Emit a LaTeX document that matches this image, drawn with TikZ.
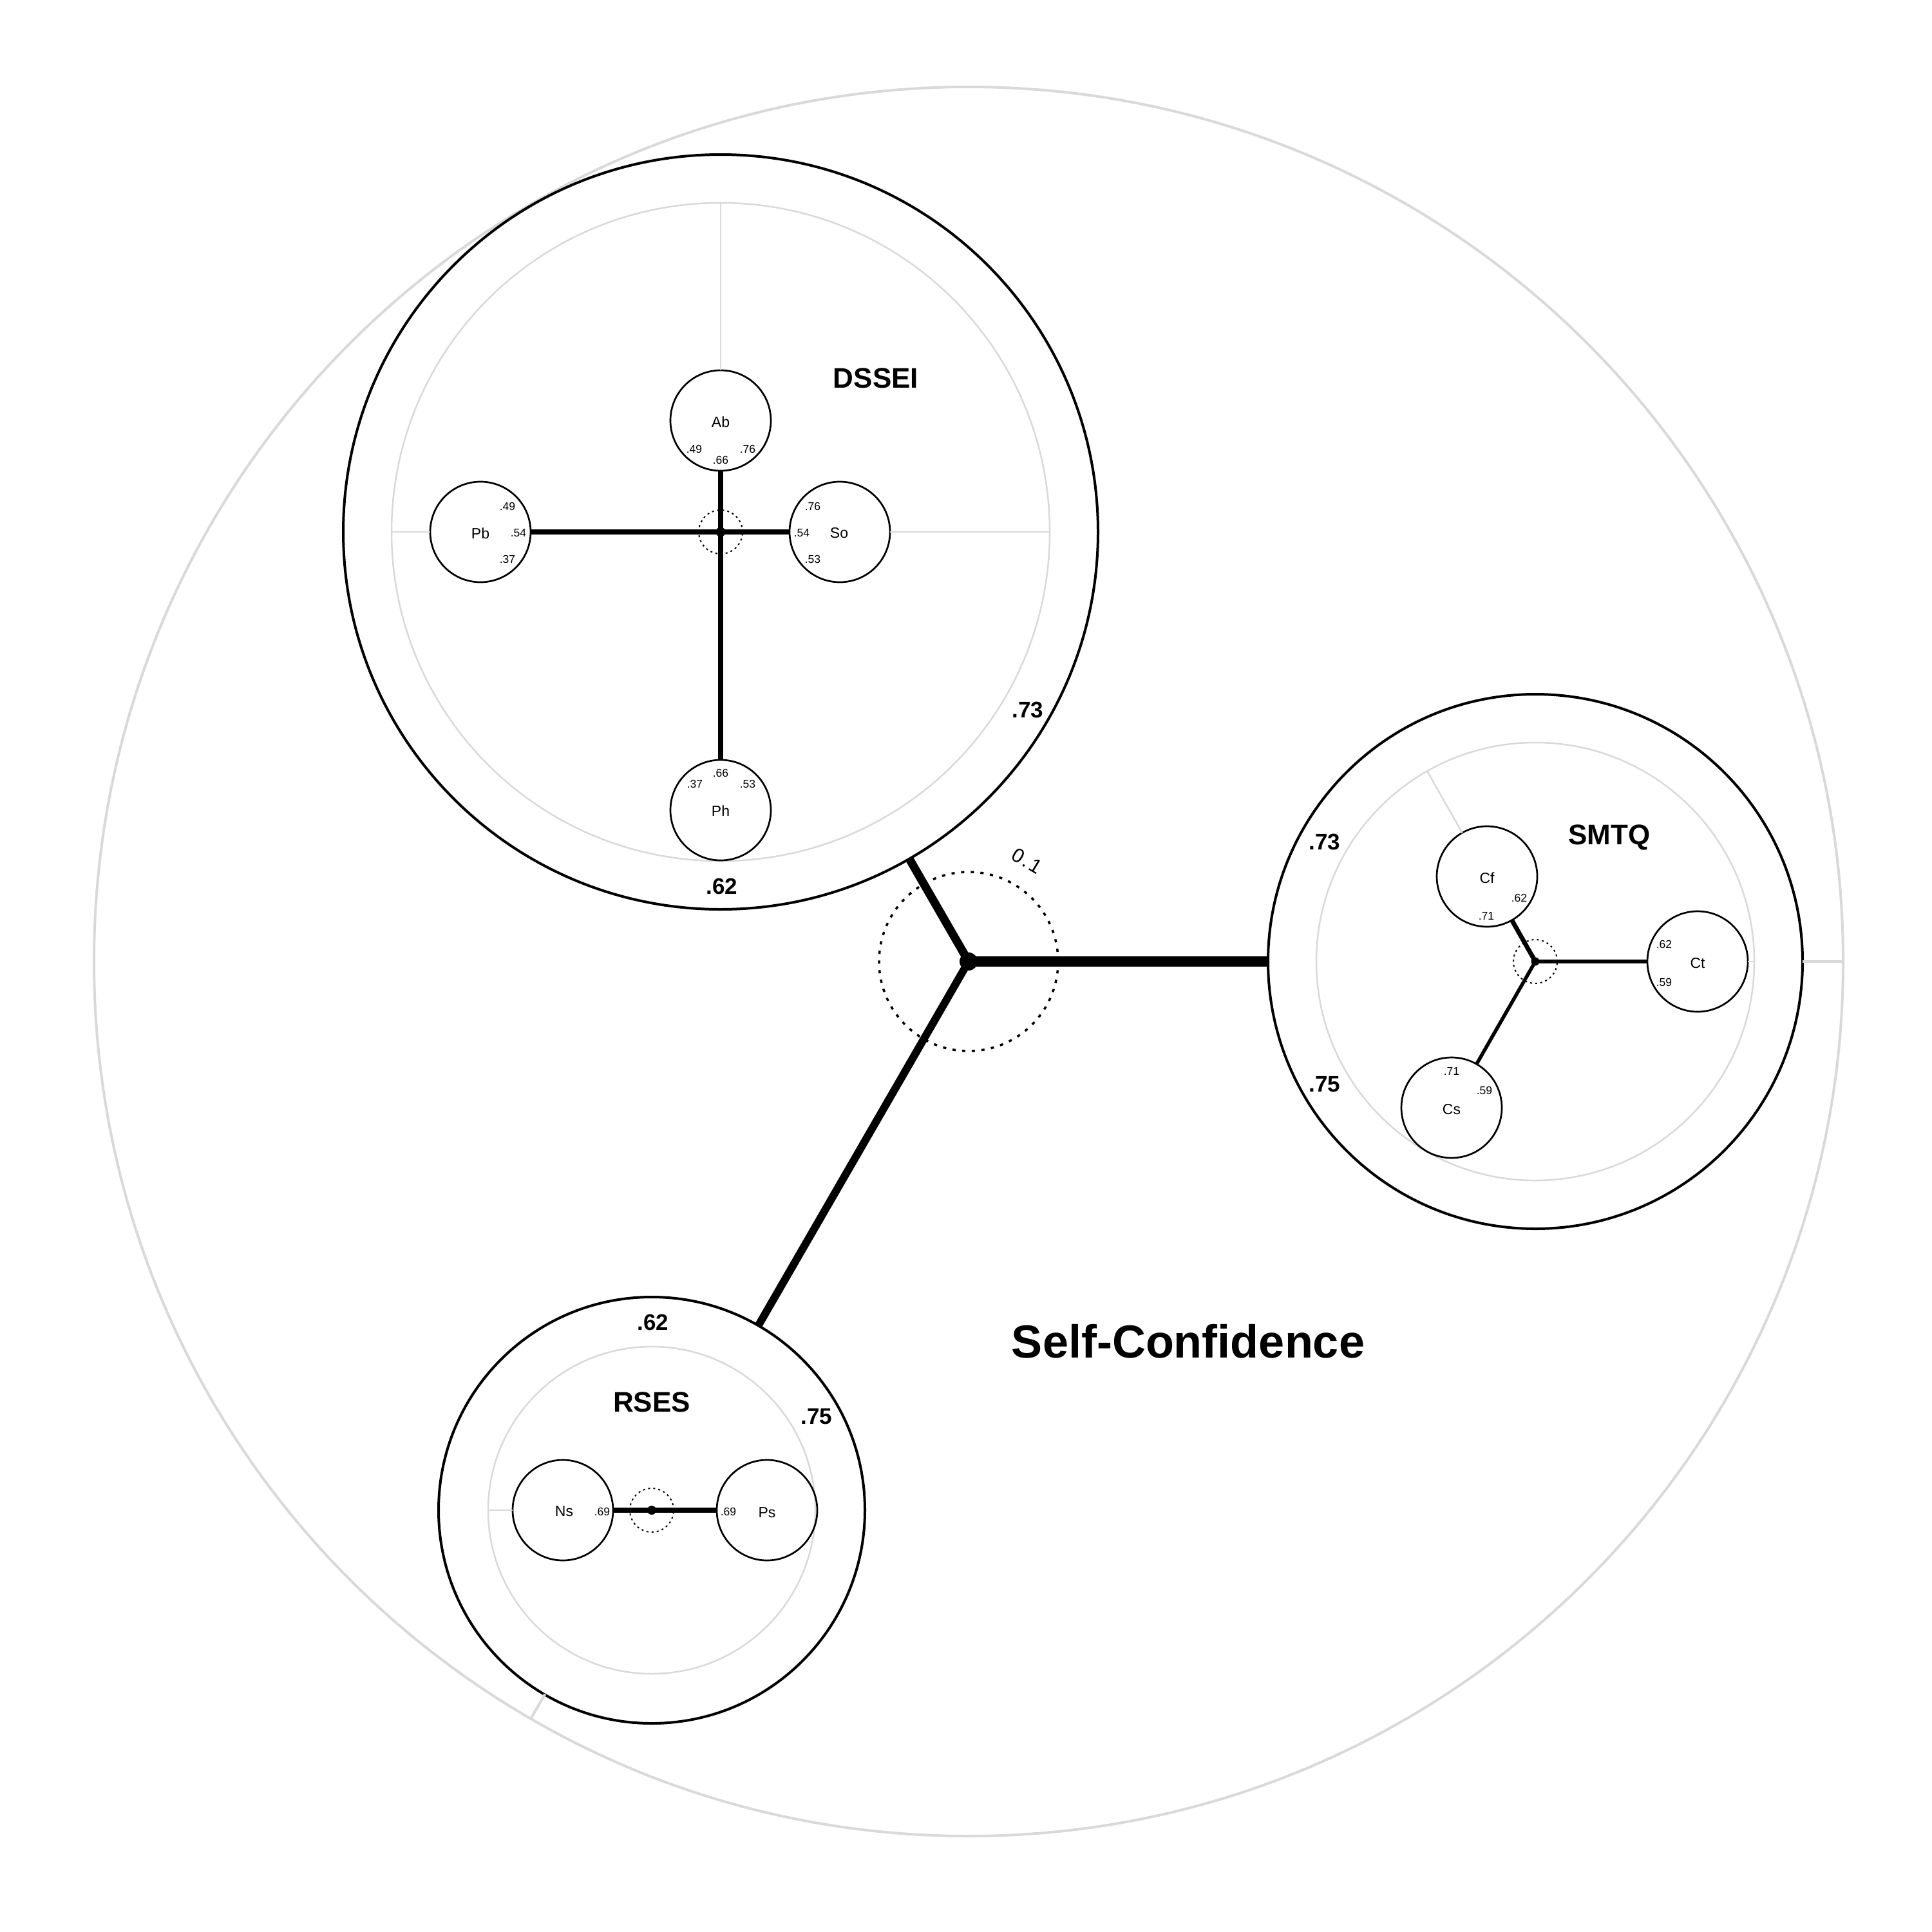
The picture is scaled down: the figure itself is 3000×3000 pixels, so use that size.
\documentclass[tikz,border=0pt]{standalone}
\usepackage{fontspec}
\setmainfont{Liberation Sans}
\definecolor{ggray}{RGB}{217,217,217}
\tikzset{
  bigc/.style={circle, draw, line width=4pt, inner sep=0pt, outer sep=0pt},
  grayc/.style={circle, draw=ggray, inner sep=0pt, outer sep=0pt},
  subc/.style={circle, draw, line width=2.7pt, minimum size=156pt, inner sep=0pt, outer sep=0pt},
  hubdot/.style={circle, fill, inner sep=0pt, outer sep=0pt},
  smalldot/.style={circle, draw, line width=2pt, dash pattern=on 3pt off 5pt, minimum size=68pt, inner sep=0pt},
  tick/.style={draw=ggray, line width=2.5pt},
  link/.style={line width=7.3pt},
  num/.style={font=\fontsize{17.5}{18}\selectfont, inner sep=0pt},
  sublab/.style={font=\fontsize{23}{24}\selectfont, inner sep=0pt},
  factlab/.style={font=\fontsize{44}{46}\selectfont\bfseries, inner sep=0pt},
  rel/.style={font=\fontsize{35}{36}\selectfont\bfseries, inner sep=0pt},
  hubtxt/.style={font=\fontsize{31}{31}\selectfont, inner sep=0pt}
}
\begin{document}
\begin{tikzpicture}[x=1pt, y=-1pt]
\useasboundingbox (0,0) rectangle (3000,3000);
% outer construct circle
\node[grayc, line width=4pt, minimum size=2716pt] (sc) at (1504,1493) {};
% factor circles
\node[bigc, minimum size=1172pt] (dssei) at (1119,826) {};
\node[grayc, line width=2.5pt, minimum size=1022pt] (dsseig) at (1119,826) {};
\node[bigc, minimum size=830pt] (smtq) at (2384,1493) {};
\node[grayc, line width=2.5pt, minimum size=680pt] (smtqg) at (2384,1493) {};
\node[bigc, minimum size=662pt] (rses) at (1012,2345) {};
\node[grayc, line width=2.5pt, minimum size=508pt] (rsesg) at (1012,2345) {};
% main hub
\coordinate (hub) at (1504,1493);
\node[circle, draw, line width=3.5pt, dash pattern=on 5pt off 10pt, minimum size=278pt, inner sep=0pt] (hubring) at (hub) {};
\draw[line width=13pt] (hub) -- (dssei);
\draw[line width=16pt] (hub) -- (smtq);
\draw[line width=12pt] (hub) -- (rses);
\node[hubdot, minimum size=28pt] (hubd) at (hub) {};
\node[hubtxt, rotate=-31] (scale) at (1595,1337) {0\kern3pt.\kern3pt1};
% ticks of main circle
\coordinate (rt1) at (846.3,2630.5);
\coordinate (rt2) at (824.3,2668.6);
\draw[draw=ggray, line width=4pt] (rt1) -- (rt2);
\coordinate (st1) at (2799,1493);
\coordinate (st2) at (2862,1493);
\draw[draw=ggray, line width=4pt] (st1) -- (st2);

% ---------------- DSSEI ----------------
\coordinate (dhub) at (1119,826);
\node[subc] (ab) at (1119,653) {};
\node[subc] (so) at (1304,826) {};
\node[subc] (pb) at (746,826) {};
\node[subc] (ph) at (1119,1258) {};
\node[smalldot] (dring) at (dhub) {};
\draw[link] (dhub) -- (ab);
\draw[link] (dhub) -- (so);
\draw[link] (dhub) -- (pb);
\draw[link] (dhub) -- (ph);
\node[hubdot, minimum size=15pt] (dhubd) at (dhub) {};
\coordinate (dg1) at (1119,315);
\coordinate (dg2) at (1630,826);
\coordinate (dg3) at (608,826);
\draw[tick] (ab.north) -- (dg1);
\draw[tick] (so.east) -- (dg2);
\draw[tick] (pb.west) -- (dg3);
\node[factlab] (dsseil) at (1360,587) {DSSEI};
\node[rel] (dr1) at (1596,1102) {.73};
\node[rel] (dr2) at (1121,1376) {.62};
\node[sublab] (abl) at (1119,655) {Ab};
\node[num] (ab1) at (1078,697) {.49};
\node[num] (ab2) at (1119,714) {.66};
\node[num] (ab3) at (1161,697) {.76};
\node[sublab] (sol) at (1303,828) {So};
\node[num] (so1) at (1262,786) {.76};
\node[num] (so2) at (1245,828) {.54};
\node[num] (so3) at (1262,868) {.53};
\node[sublab] (pbl) at (746,828) {Pb};
\node[num] (pb1) at (788,786) {.49};
\node[num] (pb2) at (805,828) {.54};
\node[num] (pb3) at (788,868) {.37};
\node[sublab] (phl) at (1119,1259) {Ph};
\node[num] (ph1) at (1119,1200) {.66};
\node[num] (ph2) at (1079,1217) {.37};
\node[num] (ph3) at (1161,1217) {.53};

% ---------------- SMTQ ----------------
\coordinate (shub) at (2384,1493);
\node[subc] (cf) at (2309,1361) {};
\node[subc] (ct) at (2636,1493) {};
\node[subc] (cs) at (2254,1720) {};
\node[smalldot] (sring) at (shub) {};
\draw[line width=7pt] (shub) -- (cf);
\draw[line width=6.5pt] (shub) -- (ct);
\draw[line width=5.5pt] (shub) -- (cs);
\node[hubdot, minimum size=13pt] (shubd) at (shub) {};
\coordinate (sg1) at (2216,1197.2);
\coordinate (sg2) at (2724,1493);
\draw[tick] (cf) -- (sg1);
\draw[tick] (ct.east) -- (sg2);
\node[factlab] (smtql) at (2499,1300) {SMTQ};
\node[rel] (sr1) at (2057,1307) {.73};
\node[rel] (sr2) at (2057,1684) {.75};
\node[sublab] (cfl) at (2309,1363) {Cf};
\node[num] (cf1) at (2359,1394) {.62};
\node[num] (cf2) at (2308,1422) {.71};
\node[sublab] (ctl) at (2636,1496) {Ct};
\node[num] (ct1) at (2584,1466) {.62};
\node[num] (ct2) at (2584,1525) {.59};
\node[sublab] (csl) at (2254,1723) {Cs};
\node[num] (cs1) at (2254,1663) {.71};
\node[num] (cs2) at (2305,1693) {.59};

% ---------------- RSES ----------------
\coordinate (rhub) at (1012,2345);
\node[subc] (ns) at (874,2345) {};
\node[subc] (ps) at (1191,2345) {};
\node[smalldot] (rring) at (rhub) {};
\draw[link] (rhub) -- (ns);
\draw[link] (rhub) -- (ps);
\node[hubdot, minimum size=14pt] (rhubd) at (rhub) {};
\coordinate (rg1) at (758,2345);
\draw[tick] (ns.west) -- (rg1);
\node[factlab] (rsesl) at (1012,2177) {RSES};
\node[rel] (rr1) at (1014,2053) {.62};
\node[rel] (rr2) at (1268,2200) {.75};
\node[sublab] (nsl) at (876,2347) {Ns};
\node[num] (ns1) at (935,2347) {.69};
\node[sublab] (psl) at (1191,2349) {Ps};
\node[num] (ps1) at (1131,2347) {.69};

% construct label
\node[font=\fontsize{72}{74}\selectfont\bfseries, inner sep=0pt] (scl) at (1845,2083) {Self-Confidence};
\end{tikzpicture}
\end{document}
